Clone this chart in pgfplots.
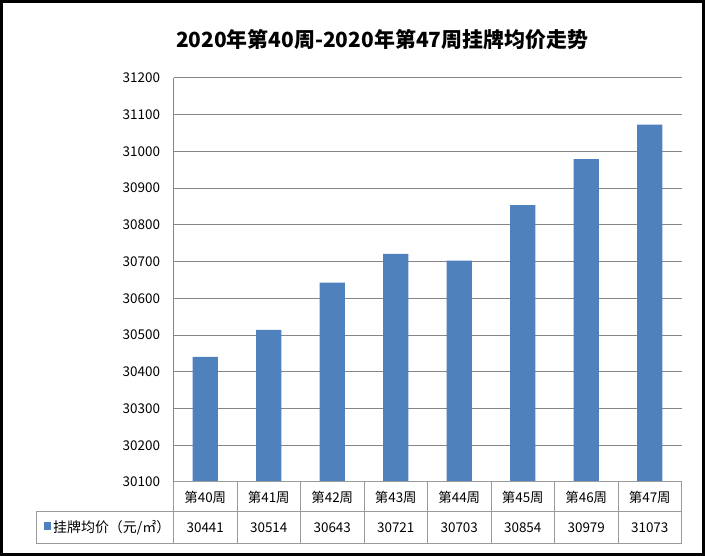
\documentclass[border=0pt]{standalone}
\usepackage{fontspec}
\setmainfont{Noto Sans CJK SC}
\usepackage{pgfplots}
\pgfplotsset{compat=1.18}
\usepackage{pgfplotstable}
\definecolor{cBar}{HTML}{4F81BD}
\definecolor{cGrid}{HTML}{868686}
\definecolor{cTab}{HTML}{9A9A9A}

% weekly listing price, yuan per square metre
\pgfplotstableread{
x  price
0  30441
1  30514
2  30643
3  30721
4  30703
5  30854
6  30979
7  31073
}\pricedata

\begin{document}
\begin{tikzpicture}[x=1bp,y=1bp]
  % outer frame
  \fill[white] (0,0) rectangle (705,556);
  \fill[black] (0,0) rectangle (3,556);
  \fill[black] (702,0) rectangle (705,556);
  \fill[black] (0,0) rectangle (705,3);
  \fill[black] (0,553) rectangle (705,556);

  \node[font=\fontsize{21}{25}\selectfont\bfseries] at (382,516) {2020年第40周-2020年第47周挂牌均价走势};

\begin{axis}[
  at={(173.5bp,74bp)}, anchor=south west,
  scale only axis, width=508bp, height=404bp,
  xmin=-0.5, xmax=7.5, ymin=30100, ymax=31200,
  ytick={30100,30200,...,31200},
  scaled y ticks=false,
  xtick=\empty,
  axis x line=none,
  axis y line*=left,
  axis line style={draw=cGrid, line width=1bp},
  y axis line style={-},
  ymajorgrids,
  major grid style={draw=cGrid, line width=1bp},
  major tick length=0pt,
  yticklabel style={font=\fontsize{13.5}{16}\selectfont, xshift=-10bp},
  /pgf/number format/assume math mode=true,
  /pgf/number format/set thousands separator={},
  ybar, bar width=25.3bp,
  clip=false,
]
  \addplot[draw=none, fill=cBar] table[x=x, y=price] {\pricedata};
\end{axis}

  % data table under the plot
  \draw[cTab, line width=1bp] (173.5,74) -- (681.5,74);
  \draw[cTab, line width=1bp] (36,44) -- (681.5,44);
  \draw[cTab, line width=1bp] (36,12) -- (681.5,12);
  \draw[cTab, line width=1bp] (36,12) -- (36,44);
  \foreach \k in {0,...,8}
    \draw[cTab, line width=1bp] (173.5+63.5*\k,12) -- (173.5+63.5*\k,74);
  \foreach \w [count=\i from 0] in {40,41,42,43,44,45,46,47}
    \node[font=\fontsize{13.5}{16}\selectfont] at (205.25+63.5*\i,59) {第\w 周};
  \foreach \v [count=\i from 0] in {30441,30514,30643,30721,30703,30854,30979,31073}
    \node[font=\fontsize{13.5}{16}\selectfont] at (205.25+63.5*\i,28) {\v};
  \fill[cBar] (43.5,26) rectangle (50.5,34);
  \node[anchor=west, inner sep=0pt, font=\fontsize{14}{16}\selectfont] at (53,28.5) {挂牌均价（元/㎡）};
\end{tikzpicture}
\end{document}
